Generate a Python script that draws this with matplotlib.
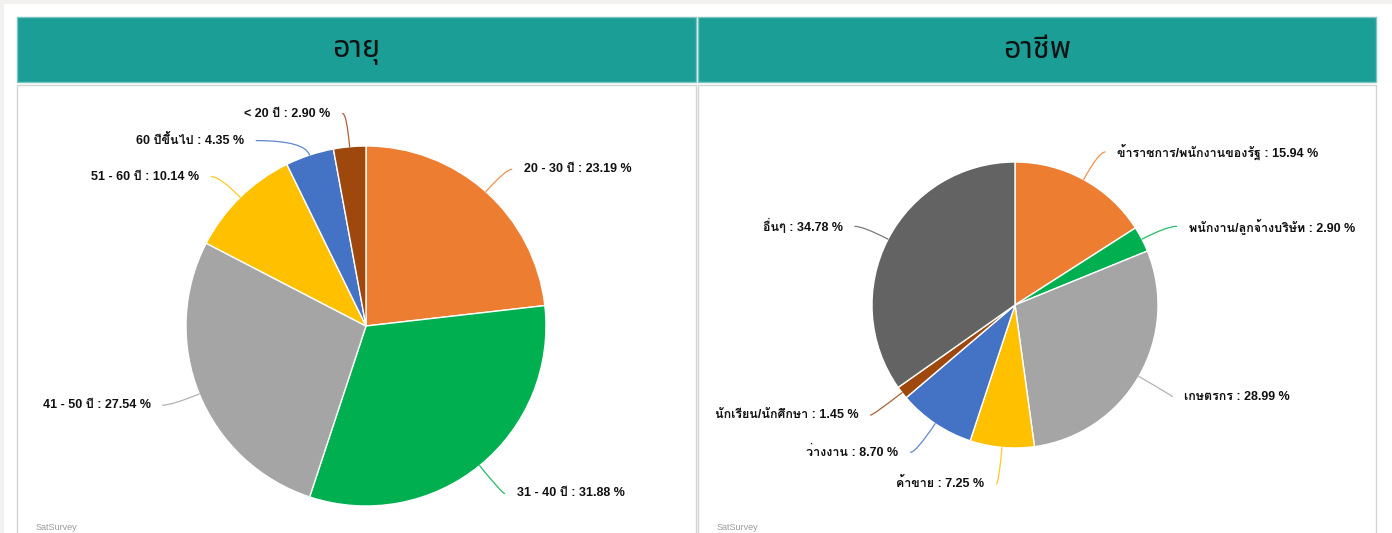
"""Two pie charts (age / occupation) in teal-headed panels, survey report style."""

import matplotlib

matplotlib.use("Agg")
import matplotlib.pyplot as plt
import numpy as np
from matplotlib import font_manager
from matplotlib.patches import Rectangle

# --- data -----------------------------------------------------------------
age_title = "อายุ"
age_labels = ["20 - 30 ปี", "31 - 40 ปี", "41 - 50 ปี", "51 - 60 ปี", "60 ปีขึ้นไป", "< 20 ปี"]
age_values = [23.19, 31.88, 27.54, 10.14, 4.35, 2.90]

job_title = "อาชีพ"
job_labels = ["ข้าราชการ/พนักงานของรัฐ", "พนักงาน/ลูกจ้างบริษัท", "เกษตรกร", "ค้าขาย",
              "ว่างงาน", "นักเรียน/นักศึกษา", "อื่นๆ"]
job_values = [15.94, 2.90, 28.99, 7.25, 8.70, 1.45, 34.78]

# --- style / layout ---------------------------------------------------------
COLORS = ["#ED7D31", "#00B050", "#A5A5A5", "#FFC000", "#4472C4", "#9E480E", "#636363"]
TEAL = "#1A9E96"
W, H = 1392, 533

# leader line end points, in pie-radius units (Excel-style manual label layout)
AGE_LABEL_POS = [(0.81, 0.87), (0.77, -0.93), (-1.13, -0.44), (-0.86, 0.83),
                 (-0.61, 1.03), (-0.13, 1.18)]
JOB_LABEL_POS = [(0.63, 1.07), (1.13, 0.55), (1.10, -0.64), (-0.13, -1.25),
                 (-0.73, -1.03), (-1.01, -0.77), (-1.12, 0.55)]


def _thai_fonts():
    """(regular family, family with a bold face) among installed Thai fonts."""
    from fontTools.ttLib import TTFont
    names, bold = [], []
    for f in font_manager.fontManager.ttflist:
        try:
            tt = TTFont(f.fname, fontNumber=0, lazy=True)
            cmap = tt.getBestCmap()
        except Exception:
            continue
        if cmap and 0x0E2D in cmap:
            names.append(f.name)
            w = f.weight if isinstance(f.weight, int) else 400
            if w >= 600 or f.weight == "bold":
                bold.append(f.name)
    prefer = ["Noto Sans Thai", "Loma", "Garuda", "Tlwg Typo", "Norasi"]
    regular = next((p for p in prefer if p in names), names[0] if names else None)
    strong = next((p for p in prefer if p in bold), bold[0] if bold else regular)
    return regular, strong


thai, thai_bold = _thai_fonts()
LABEL_FAMILY = ["Liberation Sans"] + ([thai_bold] if thai_bold else []) + ["DejaVu Sans"]
TITLE_FAMILY = ([thai] if thai else []) + ["DejaVu Sans"]


def px_rect(fig, x0, y0, x1, y1, **kw):
    """Rectangle given in pixel coords (origin top-left), kept behind the axes."""
    r = Rectangle((x0 / W, 1 - y1 / H), (x1 - x0) / W, (y1 - y0) / H,
                  transform=fig.transFigure, zorder=-10, **kw)
    fig.add_artist(r)
    return r


def draw_panel(fig, x0, x1, title, labels, values, center, radius, label_pos):
    # header
    px_rect(fig, x0, 17, x1, 82, facecolor=TEAL, edgecolor="#7CC4BF", lw=1)
    fig.text((x0 + x1) / 2 / W, 1 - 50 / H, title, ha="center", va="center",
             fontsize=22, color="#111111", family=TITLE_FAMILY)
    # body frame
    px_rect(fig, x0, 85, x1, 540, facecolor="white", edgecolor="#D4D4D4", lw=1)
    fig.text((x0 + 19) / W, 1 - 527 / H, "SatSurvey", ha="left", va="center",
             fontsize=6.5, color="#9A9A9A", family="Liberation Sans")

    cx, cy = center
    hw = min(cx - x0, x1 - cx) - 2
    hh = min(cy - 86, 532 - cy)
    ax = fig.add_axes([(cx - hw) / W, 1 - (cy + hh) / H, 2 * hw / W, 2 * hh / H])
    ax.patch.set_alpha(0)
    wedges, _ = ax.pie(values, colors=COLORS[:len(values)], startangle=90,
                       counterclock=False, radius=1,
                       wedgeprops=dict(edgecolor="white", linewidth=1))
    ax.set_xlim(-hw / radius, hw / radius)
    ax.set_ylim(-hh / radius, hh / radius)
    ax.set_aspect("auto")
    ax.axis("off")

    pad = 12 / radius
    for w, lab, val, (tx, ty) in zip(wedges, labels, values, label_pos):
        theta = (w.theta1 + w.theta2) / 2
        ex, ey = np.cos(np.radians(theta)), np.sin(np.radians(theta))
        ax.annotate("", xy=(ex, ey), xytext=(tx, ty),
                    arrowprops=dict(arrowstyle="-", color=w.get_facecolor(), lw=0.9,
                                    alpha=0.85, shrinkA=0, shrinkB=0,
                                    connectionstyle=f"angle3,angleA=0,angleB={theta:.1f}"))
        right = tx >= 0
        ax.text(tx + (pad if right else -pad), ty, f"{lab} : {val:.2f} %",
                ha="left" if right else "right", va="center", fontsize=9,
                fontweight="bold", color="#111111", family=LABEL_FAMILY)


fig = plt.figure(figsize=(W / 100, H / 100), dpi=100, facecolor="#F3F1F0")
px_rect(fig, 4, 4, W, H + 5, facecolor="white", edgecolor="none")

draw_panel(fig, 17, 696, age_title, age_labels, age_values, (366, 326), 180, AGE_LABEL_POS)
draw_panel(fig, 698, 1376, job_title, job_labels, job_values, (1015, 305), 143, JOB_LABEL_POS)

fig.savefig("out.png", dpi=100, facecolor=fig.get_facecolor())
